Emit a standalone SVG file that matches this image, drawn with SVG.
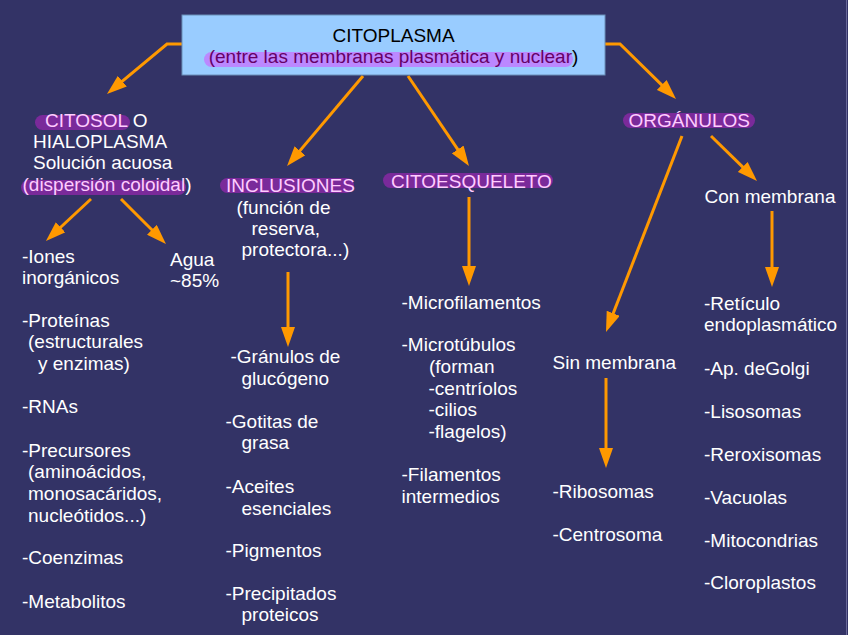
<svg xmlns="http://www.w3.org/2000/svg" width="848" height="635" viewBox="0 0 848 635">
<style>
text{font-family:"Liberation Sans",Arial,sans-serif;font-size:19px;fill:#ffffff}
.pill{fill:#7a2a9a}
.hl{fill:#ffccff}
.conn{fill:none;stroke:#ff9900;stroke-width:3;marker-end:url(#ah)}
</style>
<defs>
<marker id="ah" markerUnits="userSpaceOnUse" viewBox="0 0 20 14" refX="12" refY="7" markerWidth="20" markerHeight="14" orient="auto">
<path d="M0,0 L20,7 L0,14 Z" fill="#ff9900"/>
</marker>
</defs>
<rect x="0" y="0" width="848" height="635" fill="#333366"/>
<rect x="846" y="0" width="1" height="635" fill="#6a6a9a"/>

<g id="connectors">
<path class="conn" d="M182,44 L167,44 L113.1,88.9"/>
<path class="conn" d="M363,76 L292.2,159.9"/>
<path class="conn" d="M408,76 L464.5,159.4"/>
<path class="conn" d="M605,44 L620,44 L670.3,93.4"/>
<path class="conn" d="M91,199 L51.8,235.5"/>
<path class="conn" d="M121,199 L160.3,238.3"/>
<path class="conn" d="M288,272 L288,339"/>
<path class="conn" d="M469,197 L469,278"/>
<path class="conn" d="M682,136 L608.9,324.5"/>
<path class="conn" d="M711,136 L751.3,175.4"/>
<path class="conn" d="M772,211 L772,279"/>
<path class="conn" d="M606,378 L606,460"/>
</g>

<g id="citoplasma">
<rect x="182" y="15" width="423" height="60" fill="#99ccff" stroke="#6a8fb8" stroke-width="1"/>
<rect x="204" y="52" width="369" height="15" rx="7.5" fill="#bb88ff"/>
<text x="393.5" y="42" text-anchor="middle" style="fill:#000000">CITOPLASMA</text>
<text x="393.5" y="63" text-anchor="middle" style="fill:#000000"><tspan style="fill:#660066">(entre las membranas plasmática y nuclear</tspan>)</text>
</g>

<g id="citosol">
<rect class="pill" x="35" y="115" width="95" height="15" rx="7.5"/>
<rect class="pill" x="21" y="180" width="165" height="15" rx="7.5"/>
<text x="45" y="127"><tspan class="hl">CITOSOL</tspan> O</text>
<text x="33" y="148">HIALOPLASMA</text>
<text x="33" y="169">Solución acuosa</text>
<text x="22.5" y="190.5"><tspan class="hl">(dispersión coloidal</tspan>)</text>
</g>

<g id="citosol-items">
<text x="22" y="263">-Iones</text>
<text x="22" y="284">inorgánicos</text>
<text x="22" y="327">-Proteínas</text>
<text x="28" y="348">(estructurales</text>
<text x="38" y="370">y enzimas)</text>
<text x="22" y="413">-RNAs</text>
<text x="22" y="456.5">-Precursores</text>
<text x="28" y="477.5">(aminoácidos,</text>
<text x="28" y="500">monosacáridos,</text>
<text x="28" y="521.5">nucleótidos...)</text>
<text x="22" y="564">-Coenzimas</text>
<text x="22" y="607.5">-Metabolitos</text>
</g>

<g id="agua">
<text x="170" y="265.5">Agua</text>
<text x="170" y="286.5">~85%</text>
</g>

<g id="inclusiones">
<rect class="pill" x="220" y="178" width="134" height="15" rx="7.5"/>
<text x="226" y="192" class="hl">INCLUSIONES</text>
<text x="236.5" y="213.5">(función de</text>
<text x="251.5" y="235">reserva,</text>
<text x="241.5" y="256">protectora...)</text>
</g>

<g id="inclusiones-items">
<text x="230.5" y="363">-Gránulos de</text>
<text x="241.5" y="385">glucógeno</text>
<text x="225.5" y="428">-Gotitas de</text>
<text x="241.5" y="449">grasa</text>
<text x="225.5" y="492.5">-Aceites</text>
<text x="241.5" y="515">esenciales</text>
<text x="225.5" y="557">-Pigmentos</text>
<text x="225.5" y="600">-Precipitados</text>
<text x="241.5" y="621">proteicos</text>
</g>

<g id="citoesqueleto">
<rect class="pill" x="383" y="173" width="170" height="15" rx="7.5"/>
<text x="391" y="187.5" class="hl">CITOESQUELETO</text>
</g>

<g id="citoesqueleto-items">
<text x="401.5" y="308.5">-Microfilamentos</text>
<text x="401.5" y="351">-Microtúbulos</text>
<text x="429" y="373">(forman</text>
<text x="428.5" y="394.5">-centríolos</text>
<text x="428.5" y="416">-cilios</text>
<text x="428.5" y="437.5">-flagelos)</text>
<text x="401.5" y="481">-Filamentos</text>
<text x="401.5" y="502.5">intermedios</text>
</g>

<g id="organulos">
<rect class="pill" x="623" y="113" width="132" height="15" rx="7.5"/>
<text x="628.5" y="126.5" class="hl">ORGÁNULOS</text>
</g>

<g id="sin-membrana">
<text x="552.5" y="368.5">Sin membrana</text>
</g>
<g id="sin-membrana-items">
<text x="552.5" y="497.5">-Ribosomas</text>
<text x="552.5" y="540.5">-Centrosoma</text>
</g>

<g id="con-membrana">
<text x="704.5" y="202.5">Con membrana</text>
</g>
<g id="con-membrana-items">
<text x="704" y="310">-Retículo</text>
<text x="704" y="331">endoplasmático</text>
<text x="704" y="374.5">-Ap. deGolgi</text>
<text x="704" y="418">-Lisosomas</text>
<text x="704" y="460.5">-Reroxisomas</text>
<text x="704" y="503.5">-Vacuolas</text>
<text x="704" y="546.5">-Mitocondrias</text>
<text x="704" y="589">-Cloroplastos</text>
</g>
</svg>
